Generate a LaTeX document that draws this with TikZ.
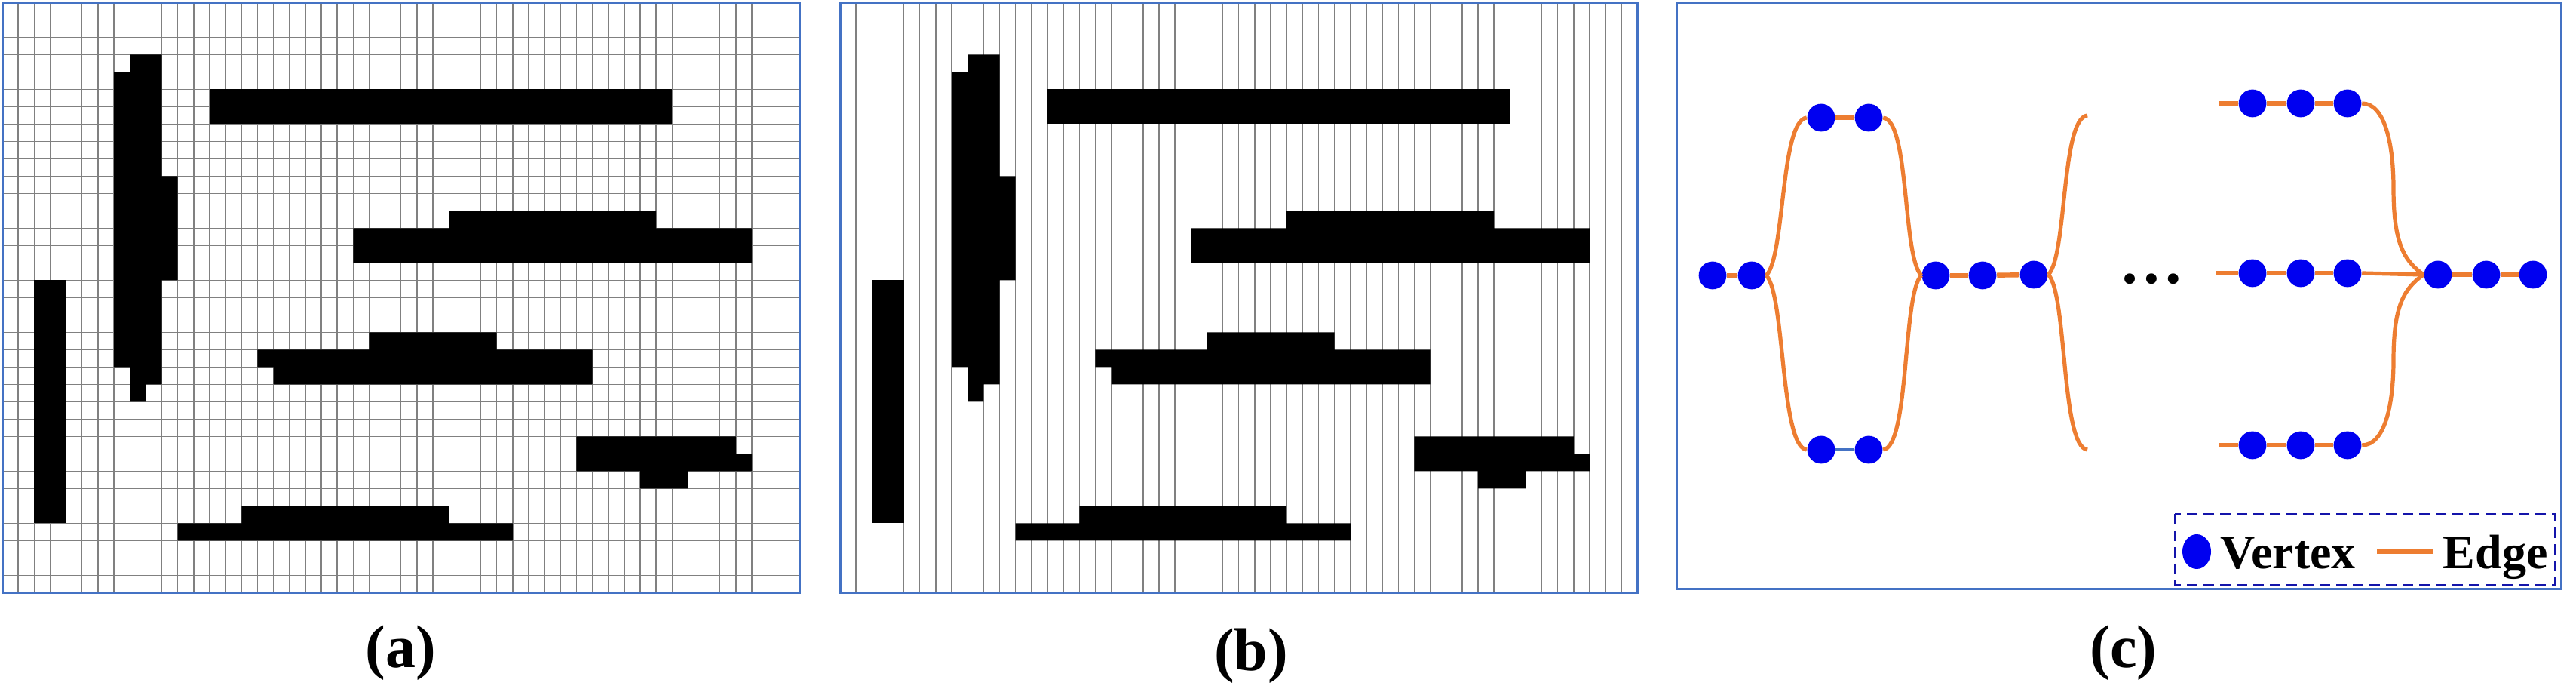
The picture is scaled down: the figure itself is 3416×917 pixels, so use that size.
\documentclass[tikz,border=0pt]{standalone}
\usepackage{fontspec}
\setmainfont{Liberation Serif}
\usetikzlibrary{shapes.geometric}
\definecolor{pborder}{RGB}{68,114,196}
\definecolor{gridc}{RGB}{128,128,128}
\definecolor{eorange}{RGB}{237,125,49}
\definecolor{vblue}{RGB}{0,0,240}
\definecolor{lgblue}{RGB}{20,20,170}
\newcommand\blackshapes{%
  \fill[black] (8,3) -- (10,3) -- (10,10) -- (11,10) -- (11,16) -- (10,16) -- (10,22) -- (9,22) -- (9,23) -- (8,23) -- (8,21) -- (7,21) -- (7,4) -- (8,4) -- cycle;
  \fill[black] (2,16) rectangle (4,30);
  \fill[black] (13,5) rectangle (42,7);
  \fill[black] (28,12) -- (41,12) -- (41,13) -- (47,13) -- (47,15) -- (22,15) -- (22,13) -- (28,13) -- cycle;
  \fill[black] (23,19) -- (31,19) -- (31,20) -- (37,20) -- (37,22) -- (17,22) -- (17,21) -- (16,21) -- (16,20) -- (23,20) -- cycle;
  \fill[black] (36,25) -- (46,25) -- (46,26) -- (47,26) -- (47,27) -- (43,27) -- (43,28) -- (40,28) -- (40,27) -- (36,27) -- cycle;
  \fill[black] (15,29) -- (28,29) -- (28,30) -- (32,30) -- (32,31) -- (11,31) -- (11,30) -- (15,30) -- cycle;
}
\tikzset{
  panel/.style={draw=pborder, line width=0.75pt},
  gridline/.style={draw=gridc, line width=0.35pt},
  vertex/.style={circle, fill=vblue, minimum size=9.2pt, inner sep=0pt},
  edgeline/.style={draw=eorange, line width=1.6pt},
  curveline/.style={draw=eorange, line width=1.3pt},
  capt/.style={font=\fontsize{20}{24}\selectfont\bfseries, anchor=base, inner sep=0pt},
  legtext/.style={font=\fontsize{16}{19}\selectfont\bfseries, anchor=base west, inner sep=0pt},
  lgbox/.style={draw=lgblue, line width=0.7pt, dash pattern=on 3.5pt off 2pt},
}
\begin{document}
\begin{tikzpicture}[x=0.25pt,y=-0.25pt]
\useasboundingbox (0,0) rectangle (3416,917);
\fill[white] (0,0) rectangle (3416,917);

% ---------- panel (a): full grid ----------
\begin{scope}[xshift=0.75pt, yshift=-0.875pt, x=5.2875pt, y=-5.75pt]
  \foreach \i in {1,...,49} \draw[gridline] (\i,0) -- (\i,34);
  \foreach \j in {1,...,33} \draw[gridline] (0,\j) -- (50,\j);
  \blackshapes
  \draw[panel] (0,0) rectangle (50,34);
\end{scope}

% ---------- panel (b): vertical strips ----------
\begin{scope}[xshift=278.5pt, yshift=-0.875pt, x=5.2875pt, y=-5.75pt]
  \foreach \i in {1,...,49} \draw[gridline] (\i,0) -- (\i,34);
  \blackshapes
  \draw[panel] (0,0) rectangle (50,34);
\end{scope}

% ---------- panel (c): graph ----------
\draw[panel] (2223,3.5) rectangle (3396,781);

\node[vertex] (L1) at (2271,365) {};
\node[vertex] (L2) at (2323,365) {};
\node[vertex] (T1) at (2415,156) {};
\node[vertex] (T2) at (2478,156) {};
\node[vertex] (B1) at (2415,596) {};
\node[vertex] (B2) at (2478,596) {};
\node[vertex] (M1) at (2567,365) {};
\node[vertex] (M2) at (2629,365) {};
\node[vertex] (M3) at (2697,364) {};
\coordinate (P1) at (2768,153);
\coordinate (P2) at (2768,596);

\node[font=\fontsize{21.4}{25}\selectfont\bfseries, anchor=base, inner sep=0pt] (dots) at (2853,376) {…};

\coordinate (S1) at (2943,137);
\coordinate (S2) at (2939,362);
\coordinate (S3) at (2942,590);
\node[vertex] (RT1) at (2987,137) {};
\node[vertex] (RT2) at (3051,137) {};
\node[vertex] (RT3) at (3113,137) {};
\node[vertex] (RM1) at (2987,362) {};
\node[vertex] (RM2) at (3051,362) {};
\node[vertex] (RM3) at (3113,362) {};
\node[vertex] (RB1) at (2987,590) {};
\node[vertex] (RB2) at (3051,590) {};
\node[vertex] (RB3) at (3113,590) {};
\node[vertex] (F1) at (3233,364) {};
\node[vertex] (F2) at (3297,364) {};
\node[vertex] (F3) at (3359,364) {};

% straight edges
\draw[edgeline] (L1) -- (L2);
\draw[edgeline] (T1) -- (T2);
\draw[draw=pborder, line width=0.9pt] (B1) -- (B2);
\draw[edgeline] (M1) -- (M2);
\draw[edgeline] (M2) -- (M3);
\draw[edgeline] (S1) -- (RT1);
\draw[edgeline] (RT1) -- (RT2);
\draw[edgeline] (RT2) -- (RT3);
\draw[edgeline] (S2) -- (RM1);
\draw[edgeline] (RM1) -- (RM2);
\draw[edgeline] (RM2) -- (RM3);
\draw[edgeline] (S3) -- (RB1);
\draw[edgeline] (RB1) -- (RB2);
\draw[edgeline] (RB2) -- (RB3);
\draw[edgeline] (F1) -- (F2);
\draw[edgeline] (F2) -- (F3);

% curved edges
\draw[curveline] (L2.east) .. controls +(25,-25) and +(-35,4) .. (T1.west);
\draw[curveline] (L2.east) .. controls +(25,25) and +(-35,-4) .. (B1.west);
\draw[curveline] (T2.east) .. controls +(35,4) and +(-25,-25) .. (M1.west);
\draw[curveline] (B2.east) .. controls +(35,-4) and +(-25,25) .. (M1.west);
\draw[curveline] (M3.east) .. controls +(25,-25) and +(-35,4) .. (P1);
\draw[curveline] (M3.east) .. controls +(25,25) and +(-35,-4) .. (P2);
\draw[curveline] (RT3.east) .. controls +(30,0) and +(0,-60) .. (3174,250) .. controls +(0,70) and +(-27,-19) .. (F1.west);
\draw[curveline] (RB3.east) .. controls +(30,0) and +(0,60) .. (3174,477) .. controls +(0,-70) and +(-27,19) .. (F1.west);
\draw[curveline] (RM3.east) -- (F1.west);

% legend
\draw[lgbox] (2884,681) rectangle (3388,775);
\node[ellipse, fill=vblue, minimum width=9.5pt, minimum height=11.5pt, inner sep=0pt] (lgv) at (2913,731) {};
\node[legtext] (lgvt) at (2944,754) {Vertex};
\coordinate (le1) at (3152,731);
\coordinate (le2) at (3227,731);
\draw[draw=eorange, line width=1.75pt] (le1) -- (le2);
\node[legtext] (lget) at (3239,754) {Edge};

% captions
\node[capt] (ca) at (531,885) {(a)};
\node[capt] (cb) at (1659,889) {(b)};
\node[capt] (cc) at (2816,885) {(c)};
\end{tikzpicture}
\end{document}
